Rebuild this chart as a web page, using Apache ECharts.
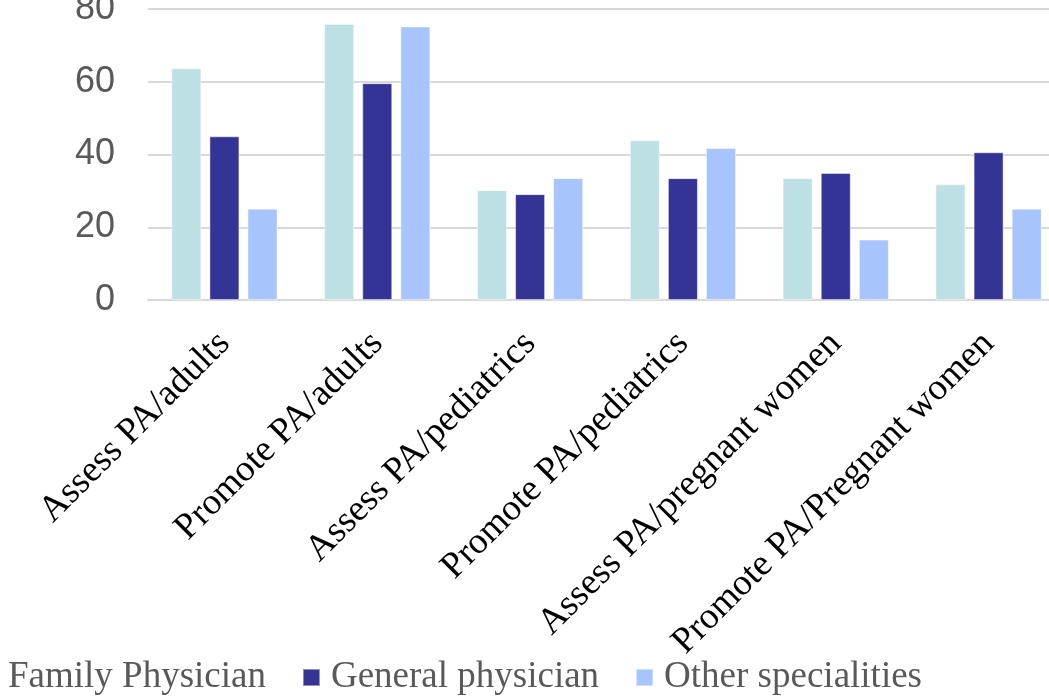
<!DOCTYPE html>
<html>
<head>
<meta charset="utf-8">
<script src="https://cdn.jsdelivr.net/npm/echarts@6/dist/echarts.min.js"></script>
<style>
  html, body { margin: 0; padding: 0; background: #ffffff; }
  #chart { width: 1049px; height: 700px; }
</style>
</head>
<body>
<div id="chart"></div>
<script>
// Share of physicians (%) who assess / promote physical activity, by patient group
const categories = [
  'Assess PA/adults',
  'Promote PA/adults',
  'Assess PA/pediatrics',
  'Promote PA/pediatrics',
  'Assess PA/pregnant women',
  'Promote PA/Pregnant women'
];
const seriesNames = ['Family Physician', 'General physician', 'Other specialities'];
const familyPhysician = [63.7, 75.9, 30.2, 43.9, 33.5, 31.8];
const generalPhysician = [45.0, 59.6, 29.1, 33.5, 34.9, 40.6];
const otherSpecialities = [25.1, 75.2, 33.5, 41.8, 16.6, 25.1];
const yTicks = { min: 0, max: 80, interval: 20 };

const colors = ['#BCE0E4', '#343496', '#A8C4FC'];
const values = [familyPhysician, generalPhysician, otherSpecialities];

const chart = echarts.init(document.getElementById('chart'), null, { renderer: 'canvas' });

chart.setOption({
  animation: false,
  backgroundColor: '#ffffff',
  grid: {
    left: 148, right: -16, top: 9, bottom: 400,
    containLabel: false,
    outerBoundsMode: 'none'
  },
  legend: {
    left: -21,
    top: 659,
    padding: 0,
    itemWidth: 17,
    itemHeight: 17,
    itemGap: 36,
    icon: 'rect',
    data: seriesNames,
    textStyle: {
      fontFamily: 'Liberation Serif',
      fontSize: 37,
      color: '#595959',
      padding: [0, 0, 0, 6]
    }
  },
  xAxis: {
    type: 'category',
    data: categories,
    axisTick: { show: false },
    axisLine: { lineStyle: { color: '#D9D9D9', width: 2 } },
    axisLabel: {
      rotate: 45,
      interval: 0,
      margin: 38,
      fontFamily: 'Liberation Serif',
      fontSize: 37,
      color: '#000000'
    }
  },
  yAxis: {
    type: 'value',
    min: yTicks.min,
    max: yTicks.max,
    interval: yTicks.interval,
    axisLine: { show: false },
    axisTick: { show: false },
    splitLine: { lineStyle: { color: '#D9D9D9', width: 2 } },
    axisLabel: {
      margin: 33,
      fontFamily: 'Liberation Sans',
      fontSize: 36,
      color: '#595959'
    }
  },
  series: seriesNames.map((name, i) => ({
    name: name,
    type: 'bar',
    data: values[i],
    barWidth: 30,
    barGap: '27%',
    itemStyle: {
      color: colors[i],
      borderColor: 'rgba(255,255,255,0.45)',
      borderWidth: 1
    }
  }))
});
</script>
</body>
</html>
